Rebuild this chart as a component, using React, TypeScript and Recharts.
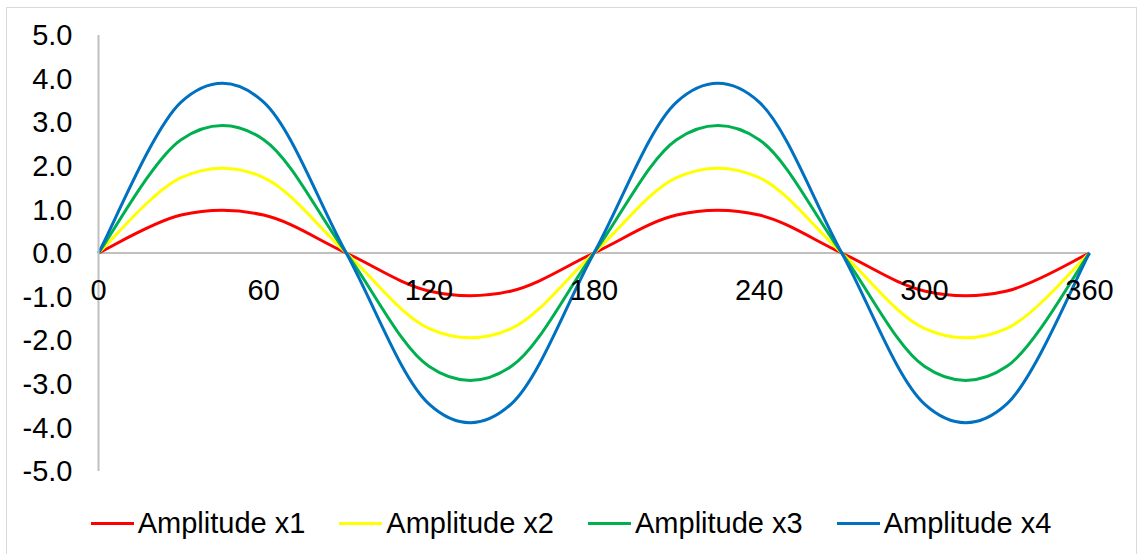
import React from "react";
import {
  LineChart,
  Line,
  XAxis,
  YAxis,
  ReferenceLine,
  ReferenceDot,
  Legend,
} from "recharts";

const FONT = '"Liberation Sans", Arial, sans-serif';

// sampled every 30 degrees, Excel-style smoothed lines in between
const degrees = [0, 30, 60, 90, 120, 150, 180, 210, 240, 270, 300, 330, 360];
const amplitude1 = [0, 0.87, 0.87, 0, -0.87, -0.87, 0, 0.87, 0.87, 0, -0.87, -0.87, 0];
const amplitude2 = [0, 1.73, 1.73, 0, -1.73, -1.73, 0, 1.73, 1.73, 0, -1.73, -1.73, 0];
const amplitude3 = [0, 2.6, 2.6, 0, -2.6, -2.6, 0, 2.6, 2.6, 0, -2.6, -2.6, 0];
const amplitude4 = [0, 3.46, 3.46, 0, -3.46, -3.46, 0, 3.46, 3.46, 0, -3.46, -3.46, 0];

const xTicks = [0, 60, 120, 180, 240, 300, 360];
const yTicks = [-5, -4, -3, -2, -1, 0, 1, 2, 3, 4, 5];

const series = [
  { key: "a1", name: "Amplitude x1", color: "#FF0000" },
  { key: "a2", name: "Amplitude x2", color: "#FFFF00" },
  { key: "a3", name: "Amplitude x3", color: "#00B050" },
  { key: "a4", name: "Amplitude x4", color: "#0070C0" },
];

const data = degrees.map((x, i) => ({
  x,
  a1: amplitude1[i],
  a2: amplitude2[i],
  a3: amplitude3[i],
  a4: amplitude4[i],
}));

// cubic bezier through every point, control points at 1/6 of the neighbour chord
const excelSmooth = (context: any) => {
  let pts: number[][] = [];
  return {
    areaStart() {},
    areaEnd() {},
    lineStart() {
      pts = [];
    },
    point(x: number, y: number) {
      pts.push([+x, +y]);
    },
    lineEnd() {
      if (!pts.length) return;
      context.moveTo(pts[0][0], pts[0][1]);
      for (let i = 0; i < pts.length - 1; i++) {
        const p0 = pts[i - 1] || pts[i];
        const p1 = pts[i];
        const p2 = pts[i + 1];
        const p3 = pts[i + 2] || pts[i + 1];
        context.bezierCurveTo(
          p1[0] + (p2[0] - p0[0]) / 6,
          p1[1] + (p2[1] - p0[1]) / 6,
          p2[0] - (p3[0] - p1[0]) / 6,
          p2[1] - (p3[1] - p1[1]) / 6,
          p2[0],
          p2[1]
        );
      }
    },
  };
};

const renderLegend = ({ payload }: any) => (
  <div
    style={{
      display: "flex",
      justifyContent: "center",
      alignItems: "center",
      gap: 34,
      fontFamily: FONT,
      fontSize: 29,
      lineHeight: 1,
      color: "#000",
    }}
  >
    {(payload || []).map((p: any) => (
      <div key={p.value} style={{ display: "flex", alignItems: "center" }}>
        <div style={{ width: 43, height: 3, background: p.color, marginRight: 4 }} />
        <span>{p.value}</span>
      </div>
    ))}
  </div>
);

export default function App() {
  return (
    <div
      style={{
        position: "absolute",
        left: 0,
        top: 0,
        width: 1139,
        height: 554,
        overflow: "hidden",
        background: "#fff",
      }}
    >
      <div
        style={{
          position: "absolute",
          left: 6,
          top: 7,
          width: 1129,
          height: 560,
          border: "1px solid #d9d9d9",
        }}
      />
      <div style={{ position: "absolute", left: 0, top: 0 }}>
        <LineChart
          width={1139}
          height={554}
          data={data}
          margin={{ top: 35, right: 49.5, bottom: 54, left: 0 }}
        >
          <XAxis dataKey="x" type="number" domain={[0, 360]} ticks={xTicks} hide />
          <YAxis
            type="number"
            domain={[-5, 5]}
            ticks={yTicks}
            width={98.5}
            interval={0}
            tickFormatter={(v: number) => v.toFixed(1)}
            axisLine={{ stroke: "#c0c0c0", strokeWidth: 2 }}
            tickLine={false}
            tickSize={0}
            tickMargin={26}
            tick={{ fill: "#000", fontSize: 29, fontFamily: FONT }}
          />
          <ReferenceLine y={0} stroke="#c0c0c0" strokeWidth={2} />
          {xTicks.map((t) => (
            <ReferenceDot
              key={t}
              x={t}
              y={0}
              r={0}
              fill="none"
              stroke="none"
              label={{
                value: String(t),
                position: "bottom",
                offset: 26,
                fill: "#000",
                fontSize: 29,
                fontFamily: FONT,
              }}
            />
          ))}
          {series.map((s) => (
            <Line
              key={s.key}
              dataKey={s.key}
              name={s.name}
              type={excelSmooth as any}
              stroke={s.color}
              strokeWidth={3}
              dot={false}
              activeDot={false}
              isAnimationActive={false}
            />
          ))}
          <Legend
            content={renderLegend}
            wrapperStyle={{ position: "absolute", top: 509, left: 6, width: 1130, bottom: "auto" }}
          />
        </LineChart>
      </div>
    </div>
  );
}
